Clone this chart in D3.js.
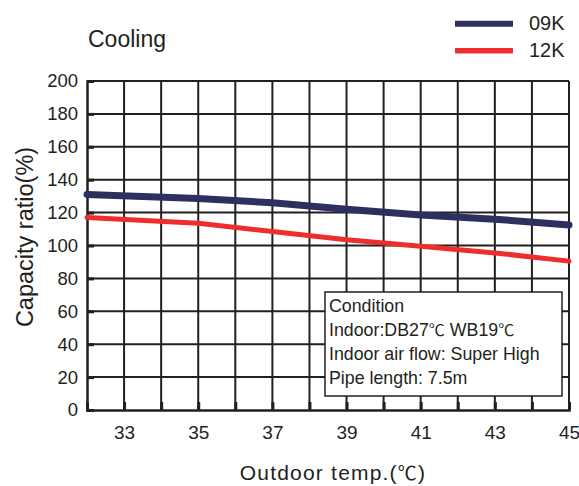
<!DOCTYPE html>
<html><head><meta charset="utf-8">
<script src="https://cdn.jsdelivr.net/npm/d3@7"></script>
<style>body{margin:0;background:#fff}svg{display:block}text{font-family:"Liberation Sans",Arial,sans-serif;fill:#231f20}</style>
</head><body><svg id="c" width="579" height="486"></svg>
<script>
const temps = [32, 35, 37, 39, 41, 43, 45];
const series09K = [131, 128.5, 126, 122, 118.5, 116, 112.5];
const series12K = [117, 113.5, 108.5, 103.5, 99.5, 95.5, 90.5];
const seriesNames = ["09K", "12K"];
const seriesColors = ["#2d2f5e", "#ee2d2d"];
const xTicks = [33, 35, 37, 39, 41, 43, 45];
const yTicks = [0, 20, 40, 60, 80, 100, 120, 140, 160, 180, 200];
const conditionLines = [["Condition"], ["Indoor:DB27", "\u2103", " WB19", "\u2103"], ["Indoor air flow: Super High"], ["Pipe length: 7.5m"]];

const svg = d3.select("#c");
const L = 87, R = 569, T = 81, B = 410;
const x = d3.scaleLinear().domain([32, 45]).range([L, R]);
const y = d3.scaleLinear().domain([0, 200]).range([B, T]);
const ink = "#231f20";
const cjk = '"Noto Sans CJK SC",sans-serif';
const sans = '"Liberation Sans",Arial,sans-serif';

// grid
const g = svg.append("g");
g.selectAll(".vg").data(d3.range(33, 45)).enter().append("line")
  .attr("x1", d => x(d)).attr("x2", d => x(d)).attr("y1", T).attr("y2", B)
  .attr("stroke", ink).attr("stroke-width", 2);
g.selectAll(".hg").data(yTicks.slice(1)).enter().append("line")
  .attr("x1", L).attr("x2", R).attr("y1", d => y(d)).attr("y2", d => y(d))
  .attr("stroke", ink).attr("stroke-width", 2);
g.append("line").attr("x1", R).attr("x2", R).attr("y1", T).attr("y2", B).attr("stroke", ink).attr("stroke-width", 2);

// axes
const ya = svg.append("g").attr("transform", `translate(${L},0)`)
  .call(d3.axisLeft(y).tickValues(yTicks).tickSize(-7).tickPadding(9).tickFormat(d3.format("d")));
ya.select(".domain").attr("stroke", ink).attr("stroke-width", 2.5);
ya.selectAll(".tick line").attr("stroke", ink).attr("stroke-width", 3);
ya.selectAll(".tick text").attr("font-size", 18.5).style("font-family", sans).attr("fill", ink);

const xa = svg.append("g").attr("transform", `translate(0,${B})`)
  .call(d3.axisBottom(x).tickValues(d3.range(32, 46)).tickSize(-8).tickPadding(16)
    .tickFormat(d => xTicks.includes(d) ? d : ""));
xa.select(".domain").attr("stroke", ink).attr("stroke-width", 2.5);
xa.selectAll(".tick line").attr("stroke", ink).attr("stroke-width", 3);
xa.selectAll(".tick text").attr("font-size", 19).style("font-family", sans).attr("fill", ink);

// lines
const line = d3.line().x((d, i) => x(temps[i])).y(d => y(d));
[series09K, series12K].forEach((s, i) => {
  svg.append("path").datum(s).attr("d", line).attr("fill", "none")
    .attr("stroke", seriesColors[i]).attr("stroke-width", i === 0 ? 7 : 5)
    .attr("stroke-linecap", "round").attr("stroke-linejoin", "round");
});

// condition box
const bx = 325, by = 292;
svg.append("rect").attr("x", bx).attr("y", by).attr("width", 237).attr("height", 104)
  .attr("fill", "#fff").attr("stroke", ink).attr("stroke-width", 1.5);
conditionLines.forEach((parts, i) => {
  const t = svg.append("text").attr("x", bx + 4).attr("y", by + 20 + i * 23.9).attr("font-size", 17.8);
  parts.forEach(p => {
    const ts = t.append("tspan").text(p);
    if (p === "\u2103") ts.style("font-family", cjk).attr("font-size", 16);
  });
});

// title
svg.append("text").attr("x", 88).attr("y", 47).attr("font-size", 23).text("Cooling");

// legend
seriesNames.forEach((n, i) => {
  const ly = 23.8 + i * 27;
  svg.append("line").attr("x1", 455).attr("x2", 513).attr("y1", ly).attr("y2", ly)
    .attr("stroke", seriesColors[i]).attr("stroke-width", i === 0 ? 6 : 5.5);
  svg.append("text").attr("x", 529).attr("y", ly + 6.5).attr("font-size", 20).text(n);
});

// axis titles
const xt = svg.append("text").attr("x", 333).attr("y", 480).attr("text-anchor", "middle")
  .attr("font-size", 21).attr("letter-spacing", 1.2);
xt.append("tspan").text("Outdoor temp.(");
xt.append("tspan").style("font-family", cjk).attr("font-size", 19).text("\u2103");
xt.append("tspan").text(")");
svg.append("text").attr("transform", "translate(33,237) rotate(-90)").attr("text-anchor", "middle")
  .attr("font-size", 23.5).text("Capacity ratio(%)");
</script></body></html>
